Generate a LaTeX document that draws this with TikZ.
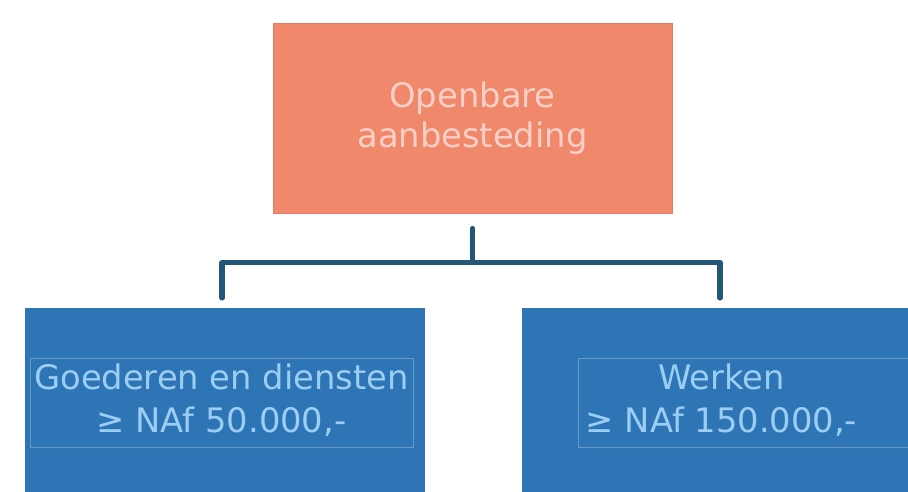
\documentclass[tikz,border=0pt]{standalone}
\usepackage{fontspec}
\setmainfont{DejaVu Sans}
\usetikzlibrary{positioning, calc}
\definecolor{salmon}{HTML}{F0896B}
\definecolor{salmonedge}{HTML}{E57C68}
\definecolor{salmontext}{HTML}{FAD0C6}
\definecolor{boxblue}{HTML}{2E75B6}
\definecolor{bluetext}{HTML}{9CCDF2}
\definecolor{frameblue}{HTML}{6A98C4}
\definecolor{linkblue}{HTML}{245777}
\tikzset{
    topbox/.style={rectangle, fill=salmon, draw=salmonedge, line width=0.6pt, text=salmontext,
        font=\fontsize{24}{28.5}\selectfont, align=center, minimum width=9.975cm, minimum height=4.75cm},
    lowbox/.style={rectangle, fill=boxblue, draw=none, minimum width=10cm, minimum height=5.5cm, anchor=north},
    lblframe/.style={rectangle, draw=frameblue, line width=0.5pt, text=bluetext,
        font=\fontsize{24}{30.5}\selectfont, minimum width=9.575cm, minimum height=2.225cm, inner sep=0pt},
    link/.style={draw=linkblue, line width=3.6pt, line cap=round, line join=round}
}

\begin{document}
\begin{tikzpicture}[x=0.025cm, y=-0.025cm]
    \useasboundingbox (0,0) rectangle (908,492);
    \clip (0,0) rectangle (908,492);

    % Top box
    \node[topbox] (openbaar) at (472.5,118) {Openbare\\aanbesteding};

    % Lower boxes
    \node[lowbox] (goederen) at (225,308) {};
    \node[lowbox] (werken) at (722,308) {};

    % Inner labels
    \node[lblframe] (goedlbl) at (221.5,402.5)
        {\begin{tabular}{@{}c@{}}Goederen en diensten\\≥ NAf 50.000,-\end{tabular}};
    \node[lblframe] (werklbl) at (769.5,402.5)
        {\begin{tabular}{@{}c@{}}Werken\\≥ NAf 150.000,-\end{tabular}\kern2.4cm};

    % Connectors
    \coordinate (fork) at ($(openbaar.south)+(0,49)$);
    \draw[link] ($(openbaar.south)+(0,15)$) -- (fork);
    \draw[link] ($(goederen.north)+(-3,-10)$) |- (fork) -| ($(werken.north)+(-2,-10)$);
\end{tikzpicture}
\end{document}
